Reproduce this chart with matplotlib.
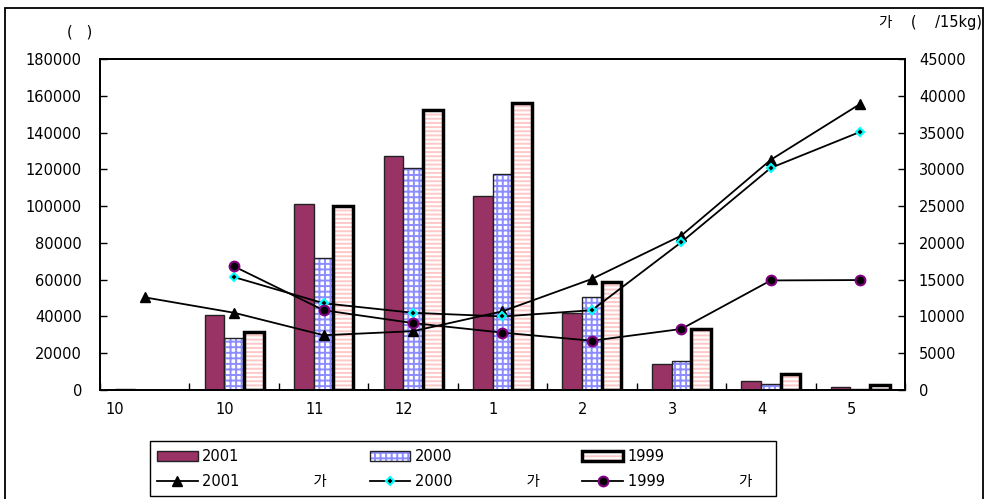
import matplotlib
matplotlib.use("Agg")
import matplotlib.pyplot as plt
import numpy as np
from matplotlib.patches import Rectangle

plt.rcParams['font.family'] = ['DejaVu Sans', 'Noto Sans CJK KR']
plt.rcParams['hatch.linewidth'] = 1.4

months = ["10", "10", "11", "12", "1", "2", "3", "4", "5"]

# shipments (left axis)
qty_2001 = [500, 41000, 101000, 127000, 105500, 42000, 14000, 5000, 1400]
qty_2000 = [np.nan, 28200, 72000, 121000, 117500, 50500, 16000, 3100, 400]
qty_1999 = [np.nan, 31500, 100000, 152500, 156000, 59000, 33000, 8500, 2700]

# prices (right axis, /15kg)
price_2001 = [12600, 10500, 7450, 8000, 10700, 15100, 21000, 31300, 38900]
price_2000 = [np.nan, 15350, 11800, 10500, 10000, 10850, 20100, 30200, 35100]
price_1999 = [np.nan, 16800, 10850, 9100, 7800, 6700, 8300, 14900, 14950]

fig = plt.figure(figsize=(9.86, 4.99), dpi=100)
ax = fig.add_axes([0.1014, 0.2184, 0.8164, 0.6633])
ax2 = ax.twinx()

x = np.arange(len(months))
w = 0.22

b1 = ax.bar(x - w, qty_2001, w, color='#993366', edgecolor='#222222', linewidth=1.0, zorder=2)
b2h = ax.bar(x, qty_2000, w, color='white', edgecolor='#8c8cff', hatch='+++', linewidth=0, zorder=2)
b2e = ax.bar(x, qty_2000, w, fill=False, edgecolor='#222222', linewidth=1.0, zorder=3)
b3h = ax.bar(x + w, qty_1999, w, color='white', edgecolor='#ffc8c8', hatch='----', linewidth=0, zorder=2)
b3e = ax.bar(x + w, qty_1999, w, fill=False, edgecolor='black', linewidth=2.5, zorder=3)

l1, = ax2.plot(x, price_2001, color='black', lw=1.3, marker='^', ms=7.5, mfc='black', mec='black')
l2, = ax2.plot(x, price_2000, color='black', lw=1.3, marker='D', ms=4.5, mfc='black', mec='cyan', mew=1.5)
l3, = ax2.plot(x, price_1999, color='black', lw=1.3, marker='o', ms=7, mfc='black', mec='#800080', mew=1.5)

ax.set_xlim(-0.5, len(months) - 0.5)
ax.set_ylim(0, 180000)
ax2.set_ylim(0, 45000)
ax.set_yticks(np.arange(0, 180001, 20000))
ax2.set_yticks(np.arange(0, 45001, 5000))

# boundaries as ticks, labels drawn slightly left of centers
ax.set_xticks(np.arange(len(months) + 1) - 0.5)
ax.set_xticklabels([])
ax.tick_params(axis='x', direction='in', length=5, width=1)
lab_x = x - 0.1
lab_x[0] = x[0] - 0.33
for xi, m in zip(lab_x, months):
    ax.text(xi, -0.06, m, transform=ax.get_xaxis_transform(), ha='center', va='center', fontsize=10.5)

ax.tick_params(axis='y', direction='in', length=5, width=1, pad=13, labelsize=10.5)
ax2.tick_params(axis='y', direction='in', length=5, width=1, pad=10, labelsize=10.5)
for a in (ax, ax2):
    for s in a.spines.values():
        s.set_linewidth(1.3)

fig.text(80 / 986, 1 - 32 / 499, "(   )", ha='center', va='center', fontsize=10.5)
fig.text(982 / 986, 1 - 22 / 499, "가    (    /15kg)", ha='right', va='center', fontsize=10.5)

handles = [b1, l1, (b2h, b2e), l2, (b3h, b3e), l3]
gap = " " * 16
labels = ["2001", "2001" + gap + "가", "2000", "2000" + gap + "가", "1999", "1999" + gap + "가"]
leg = fig.legend(handles, labels, ncol=3, loc='center', mode='expand',
                 bbox_to_anchor=(157 / 986, 4 / 499, 595 / 986, 52 / 499), fontsize=10.5,
                 handlelength=2.8, handletextpad=0.3, borderpad=0.0, borderaxespad=0,
                 labelspacing=0.7, frameon=False)

fig.patches.append(Rectangle((150 / 986, 3 / 499), 626 / 986, 55 / 499,
                             transform=fig.transFigure, fill=False, edgecolor='black', linewidth=1.0))
fig.patches.append(Rectangle((5 / 986, -0.01), 978 / 986, 1 - 8 / 499 + 0.01,
                             transform=fig.transFigure, fill=False, edgecolor='black', linewidth=1.3))

fig.savefig("out.png", dpi=100)
